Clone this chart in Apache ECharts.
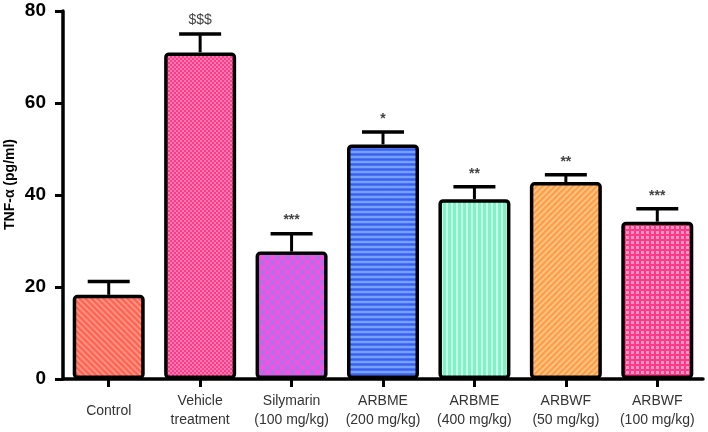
<!DOCTYPE html>
<html>
<head>
<meta charset="utf-8">
<script src="https://cdn.jsdelivr.net/npm/echarts@6/dist/echarts.min.js"></script>
<style>html,body{margin:0;padding:0;background:#fff}#c{width:708px;height:432px}</style>
</head>
<body>
<div id="c"></div>
<script>
var categories = ['Control', 'Vehicle\ntreatment', 'Silymarin\n(100 mg/kg)', 'ARBME\n(200 mg/kg)', 'ARBME\n(400 mg/kg)', 'ARBWF\n(50 mg/kg)', 'ARBWF\n(100 mg/kg)'];
var means = [18.3, 71.0, 27.7, 51.0, 39.1, 42.8, 34.2];
var errors = [2.9, 4.0, 3.9, 2.7, 2.7, 1.6, 2.8];
var significance = ['', '$$$', '***', '*', '**', '**', '***'];
var yTicks = [0, 20, 40, 60, 80];

function makePattern(w, h, draw) {
  var c = document.createElement('canvas');
  c.width = w; c.height = h;
  var g = c.getContext('2d');
  draw(g, w, h);
  return { image: c, repeat: 'repeat' };
}
function diag(base, light, dir) {
  return makePattern(6, 6, function (g, w, h) {
    g.fillStyle = base; g.fillRect(0, 0, w, h);
    g.strokeStyle = light; g.lineWidth = 1.6;
    for (var k = -2; k <= 2; k++) {
      g.beginPath();
      if (dir > 0) { g.moveTo(k * 6 - 1, h + 1); g.lineTo(k * 6 + w + 1, -1); }
      else { g.moveTo(k * 6 - 1, -1); g.lineTo(k * 6 + w + 1, h + 1); }
      g.stroke();
    }
  });
}
var patterns = [
  diag('#ff6656', '#ff9888', -1),
  makePattern(4, 4, function (g, w, h) {
    g.fillStyle = '#ff3a88'; g.fillRect(0, 0, w, h);
    g.fillStyle = '#ff7cb2'; g.fillRect(0, 0, 2, 2); g.fillRect(2, 2, 2, 2);
  }),
  makePattern(10, 10, function (g, w, h) {
    g.fillStyle = '#f652e2'; g.fillRect(0, 0, w, h);
    g.fillStyle = '#b46ee8'; g.fillRect(0, 0, 5, 5); g.fillRect(5, 5, 5, 5);
  }),
  makePattern(5, 5, function (g, w, h) {
    g.fillStyle = '#4a72f6'; g.fillRect(0, 0, w, h);
    g.fillStyle = '#74a2ff'; g.fillRect(0, 1, w, 2);
    g.fillStyle = '#3f5fe8'; g.fillRect(0, 4, w, 1);
  }),
  makePattern(5, 5, function (g, w, h) {
    g.fillStyle = '#7ff2c6'; g.fillRect(0, 0, w, h);
    g.fillStyle = '#c6ffe8'; g.fillRect(1, 0, 2, h);
  }),
  diag('#ffa048', '#ffc88e', 1),
  makePattern(5, 5, function (g, w, h) {
    g.fillStyle = '#ff3a88'; g.fillRect(0, 0, w, h);
    g.fillStyle = '#ff96c4'; g.fillRect(1, 1, 3, 3);
  })
];

var barData = means.map(function (v, i) {
  return { value: v, itemStyle: { color: patterns[i] } };
});
var errData = means.map(function (v, i) { return [i, v, v + errors[i], significance[i]]; });

var chart = echarts.init(document.getElementById('c'), null, { renderer: 'canvas' });
chart.setOption({
  animation: false,
  backgroundColor: '#ffffff',
  grid: { left: 63, right: 5, top: 11, bottom: 53, containLabel: false },
  xAxis: {
    type: 'category',
    data: categories,
    axisLine: { lineStyle: { color: '#000', width: 3.5 } },
    axisTick: { show: true, alignWithLabel: true, length: 8, lineStyle: { color: '#000', width: 3 } },
    axisLabel: {
      interval: 0, color: '#333', fontFamily: 'Liberation Sans, Arial', fontSize: 14,
      lineHeight: 19, verticalAlign: 'middle', margin: 32
    }
  },
  yAxis: {
    type: 'value', min: 0, max: 80, interval: 20,
    splitLine: { show: false },
    axisLine: { show: true, lineStyle: { color: '#000', width: 3.5 } },
    axisTick: { show: true, length: 8, lineStyle: { color: '#000', width: 3 } },
    axisLabel: {
      color: '#000', fontFamily: 'Liberation Sans, Arial', fontWeight: 'bold', fontSize: 19, margin: 17,
      formatter: function (v) { return yTicks.indexOf(v) >= 0 ? String(v) : ''; }
    }
  },
  graphic: [{
    type: 'text', rotation: Math.PI / 2,
    style: { text: 'TNF-α (pg/ml)', font: 'bold 14px "Liberation Sans", Arial', fill: '#000' },
    x: 3, y: 230
  }],
  series: [
    {
      type: 'bar', data: barData, barWidth: 72, z: 2,
      itemStyle: { borderColor: '#000', borderWidth: 3.5, borderRadius: 3 }
    },
    {
      type: 'custom', z: 1, data: errData,
      encode: { x: 0, y: [1, 2] },
      renderItem: function (params, api) {
        var i = api.value(0);
        var p0 = api.coord([i, api.value(1)]);
        var p1 = api.coord([i, api.value(2)]);
        var hw = 21;
        var txt = significance[params.dataIndex];
        var isDollar = txt.indexOf('$') >= 0;
        return {
          type: 'group',
          children: [
            { type: 'line', shape: { x1: p0[0], y1: p0[1], x2: p1[0], y2: p1[1] }, style: { stroke: '#000', lineWidth: 3 } },
            { type: 'line', shape: { x1: p1[0] - hw, y1: p1[1], x2: p1[0] + hw, y2: p1[1] }, style: { stroke: '#000', lineWidth: 3.5 } },
            { type: 'text', x: p1[0], y: p1[1] - (isDollar ? 14 : 6),
              style: { text: txt, align: 'center', verticalAlign: isDollar ? 'middle' : 'bottom',
                font: (isDollar ? '14px' : 'bold 14px') + ' "Liberation Sans", Arial', fill: '#444' } }
          ]
        };
      }
    }
  ]
});
</script>
</body>
</html>
